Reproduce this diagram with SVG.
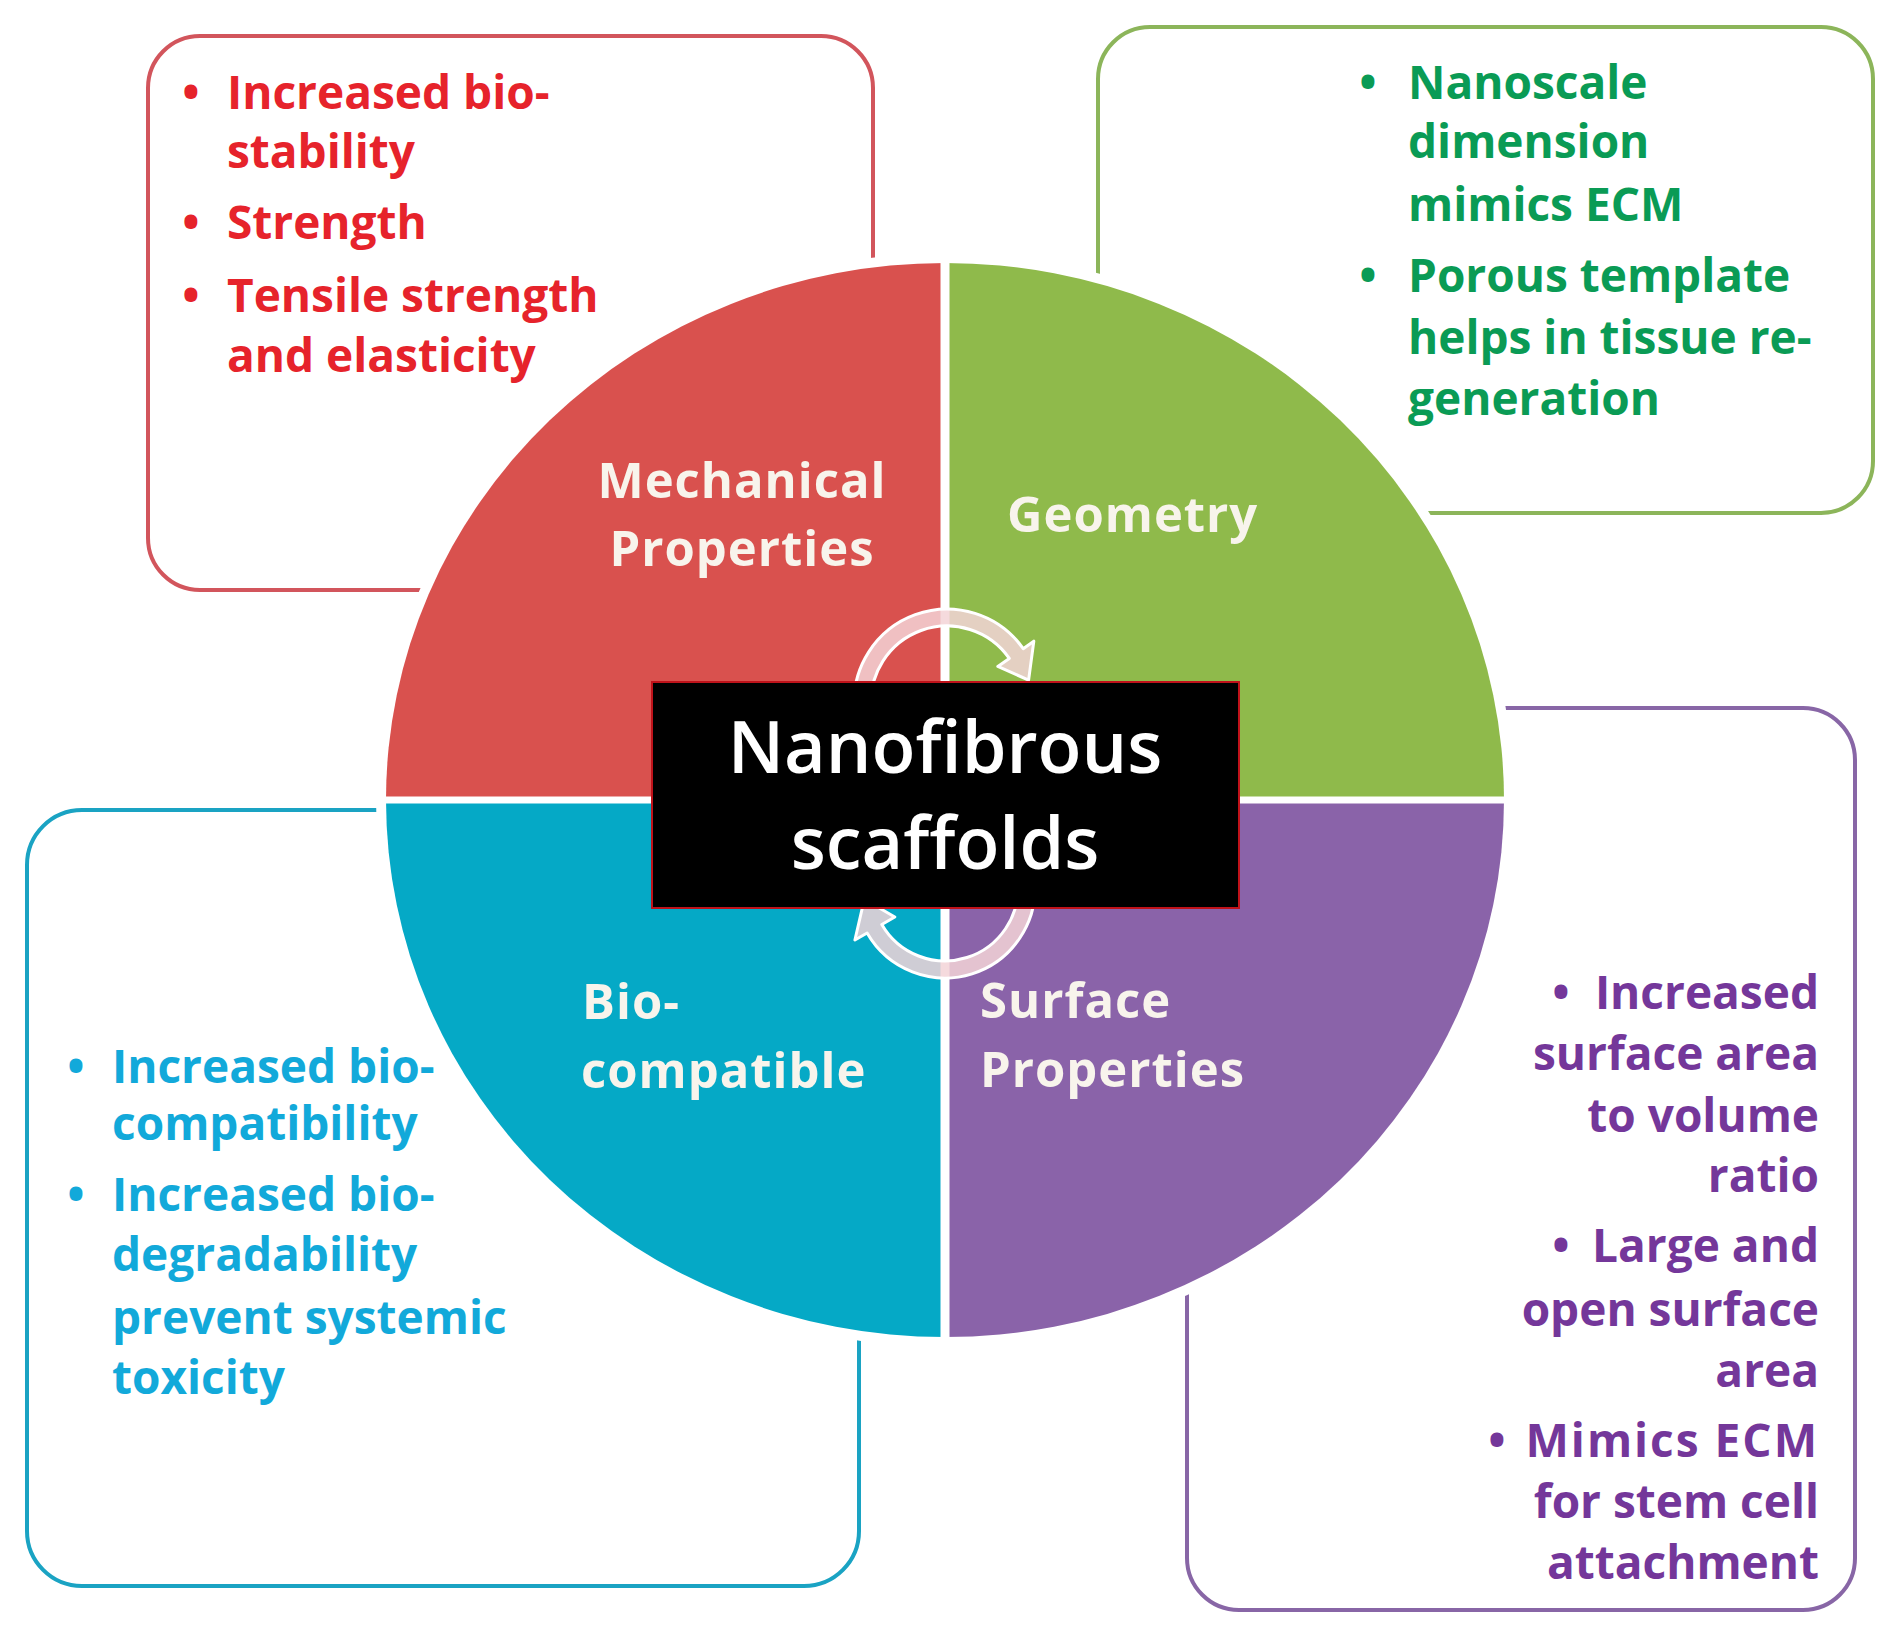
<svg xmlns="http://www.w3.org/2000/svg" width="1899" height="1636" viewBox="0 0 1899 1636">
<style>
.box{fill:#fff;stroke-width:4}
.t{font-family:"Open Sans","Liberation Sans",sans-serif;font-weight:700;font-size:46px}
.lbl{font-family:"Open Sans","Liberation Sans",sans-serif;font-weight:700;font-size:49px;letter-spacing:1px;fill:#f8f4ec}
.title{font-family:"Open Sans","Liberation Sans",sans-serif;font-weight:600;font-size:72px;fill:#fff;text-anchor:middle}
.red{fill:#e6232b}.grn{fill:#0a9b55}.blu{fill:#12a9da}.pur{fill:#74379a}
.arrow{fill:#f3d3d7;fill-opacity:0.85;stroke:#fff;stroke-width:3;stroke-linejoin:round}
.gap{stroke:#fff}
</style>
<rect width="1899" height="1636" fill="#fff"/>

<g id="box-mechanical">
<rect class="box" x="148" y="36" width="725" height="554" rx="52" stroke="#d2555c"/>
<g class="t red">
<text x="191" y="109" text-anchor="middle">•</text>
<text x="227" y="109">Increased bio-</text>
<text x="227" y="168">stability</text>
<text x="191" y="239" text-anchor="middle">•</text>
<text x="227" y="239">Strength</text>
<text x="191" y="312" text-anchor="middle">•</text>
<text x="227" y="312">Tensile strength</text>
<text x="227" y="372">and elasticity</text>
</g>
</g>

<g id="box-geometry">
<rect class="box" x="1098" y="27" width="775" height="486" rx="52" stroke="#8cb55a"/>
<g class="t grn">
<text x="1368" y="99" text-anchor="middle">•</text>
<text x="1408" y="99">Nanoscale</text>
<text x="1408" y="158">dimension</text>
<text x="1408" y="221">mimics ECM</text>
<text x="1368" y="292" text-anchor="middle">•</text>
<text x="1408" y="292">Porous template</text>
<text x="1408" y="354">helps in tissue re-</text>
<text x="1408" y="415">generation</text>
</g>
</g>

<g id="box-biocompatible">
<rect class="box" x="27" y="810" width="832" height="776" rx="55" stroke="#1aa3c3"/>
<g class="t blu">
<text x="76" y="1083" text-anchor="middle">•</text>
<text x="112" y="1083">Increased bio-</text>
<text x="112" y="1140">compatibility</text>
<text x="76" y="1211" text-anchor="middle">•</text>
<text x="112" y="1211">Increased bio-</text>
<text x="112" y="1271">degradability</text>
<text x="112" y="1334">prevent systemic</text>
<text x="112" y="1394">toxicity</text>
</g>
</g>

<g id="box-surface">
<rect class="box" x="1187" y="708" width="668" height="902" rx="52" stroke="#8866a6"/>
<g class="t pur">
<text x="1561" y="1009" text-anchor="middle">•</text>
<text x="1819" y="1009" text-anchor="end">Increased</text>
<text x="1819" y="1070" text-anchor="end">surface area</text>
<text x="1819" y="1132" text-anchor="end">to volume</text>
<text x="1819" y="1192" text-anchor="end">ratio</text>
<text x="1561" y="1262" text-anchor="middle">•</text>
<text x="1819" y="1262" text-anchor="end">Large and</text>
<text x="1819" y="1326" text-anchor="end">open surface</text>
<text x="1819" y="1387" text-anchor="end">area</text>
<text x="1497" y="1457" text-anchor="middle">•</text>
<text x="1819" y="1457" text-anchor="end" letter-spacing="2">Mimics ECM</text>
<text x="1819" y="1518" text-anchor="end">for stem cell</text>
<text x="1819" y="1579" text-anchor="end">attachment</text>
</g>
</g>

<ellipse cx="945" cy="800" rx="569" ry="547" fill="#fff"/>

<g id="quadrant-mechanical">
<path d="M945,800 L386,800 A559,537 0 0 1 945,263 Z" fill="#d9514e"/>
<text class="lbl" x="742" y="498" text-anchor="middle">Mechanical</text>
<text class="lbl" x="742" y="566" text-anchor="middle">Properties</text>
</g>
<g id="quadrant-geometry">
<path d="M945,800 L945,263 A559,537 0 0 1 1504,800 Z" fill="#8fba4b"/>
<text class="lbl" x="1007" y="532">Geometry</text>
</g>
<g id="quadrant-surface">
<path d="M945,800 L1504,800 A559,537 0 0 1 945,1337 Z" fill="#8a63a9"/>
<text class="lbl" x="980" y="1018">Surface</text>
<text class="lbl" x="980" y="1087">Properties</text>
</g>
<g id="quadrant-biocompatible">
<path d="M945,800 L945,1337 A559,537 0 0 1 386,800 Z" fill="#05a9c6"/>
<text class="lbl" x="582" y="1019">Bio-</text>
<text class="lbl" x="581" y="1088">compatible</text>
</g>

<g id="dividers" class="gap">
<line x1="945" y1="250" x2="945" y2="1350" stroke-width="9"/>
<line x1="375" y1="800" x2="1515" y2="800" stroke-width="7"/>
</g>

<g id="connectors">
<path class="arrow" d="M854.4,710.1 A93,93 0 0 1 1023.2,648.7 L1033.8,641.2 L1028.6,680.1 L997.8,666.4 L1009.3,658.4 A76,76 0 0 0 871.3,708.6 Z"/>
<path class="arrow" d="M1034.7,880.2 A90,90 0 0 1 867.1,933 L854.9,940 L864.3,899.3 L894.8,917 L881.8,924.5 A73,73 0 0 0 1017.7,881.6 Z"/>
</g>

<g id="center">
<rect x="652" y="682" width="587" height="226" fill="#000" stroke="#c0121a" stroke-width="2"/>
<text class="title" x="945" y="773">Nanofibrous</text>
<text class="title" x="945" y="869">scaffolds</text>
</g>
</svg>
